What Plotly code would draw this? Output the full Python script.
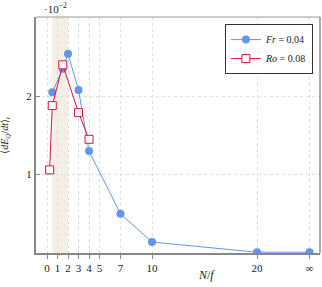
import plotly.graph_objects as go

fr_x = [0.5, 1.5, 2, 3, 4, 7, 10, 20, 25]
fr_y = [2.05, 2.35, 2.54, 2.08, 1.30, 0.50, 0.14, 0.01, 0.01]
ro_x = [0.25, 0.5, 1.5, 3, 4]
ro_y = [1.06, 1.88, 2.40, 1.79, 1.45]
tick_vals = [0, 1, 2, 3, 4, 5, 7, 10, 20, 25]
tick_text = ["0", "1", "2", "3", "4", "5", "7", "10", "20", "∞"]
band = [0.5, 2]

blue = "#6495ED"
red = "#DC143C"
font = "Liberation Serif"

fig = go.Figure()
fig.add_vrect(x0=band[0], x1=band[1], fillcolor="#f3efe4", line_width=0, layer="below")
fig.add_trace(go.Scatter(x=fr_x, y=fr_y, mode="lines+markers", name="<i>Fr</i> = 0.04",
                         line=dict(color=blue, width=1),
                         marker=dict(color=blue, size=8, symbol="circle")))
fig.add_trace(go.Scatter(x=ro_x, y=ro_y, mode="lines+markers", name="<i>Ro</i> = 0.08",
                         line=dict(color=red, width=1),
                         marker=dict(color="white", size=8, symbol="square",
                                     line=dict(color=red, width=1))))
fig.add_shape(type="line", xref="paper", yref="paper", x0=0, x1=1, y0=1, y1=1,
              line=dict(color="#999", width=1))
fig.add_shape(type="line", xref="paper", yref="paper", x0=1, x1=1, y0=0, y1=1,
              line=dict(color="#555", width=1))
fig.update_layout(
    width=322, height=287,
    margin=dict(l=36, r=2, t=17, b=34),
    paper_bgcolor="white", plot_bgcolor="white",
    font=dict(family=font, size=11, color="#222"),
    showlegend=True,
    legend=dict(x=0.975, y=0.97, xanchor="right", yanchor="top",
                bordercolor="#333", borderwidth=1, bgcolor="white",
                font=dict(size=10), tracegroupgap=0, itemwidth=30),
    xaxis=dict(range=[-1.05, 26], tickvals=tick_vals, ticktext=tick_text,
               showgrid=True, gridcolor="#dedede", griddash="dot", gridwidth=1,
               showline=True, linecolor="#888", linewidth=2,
               ticks="outside", ticklen=4, tickcolor="#888", zeroline=False),
    yaxis=dict(range=[0, 3.01], tickvals=[1, 2], ticktext=["1", "2"],
               showgrid=True, gridcolor="#dedede", griddash="dot", gridwidth=1,
               showline=True, linecolor="#888", linewidth=2,
               ticks="inside", ticklen=4, tickcolor="#888", zeroline=False),
)
fig.add_annotation(xref="paper", yref="paper", x=0.6, y=-0.055, text="<i>N</i>/<i>f</i>",
                   showarrow=False, xanchor="center", yanchor="top", font=dict(size=12))
fig.add_annotation(xref="paper", yref="paper", x=-0.11, y=0.5,
                   text="⟨<i>dE<sub>Q</sub></i>/<i>dt</i>⟩<sub><i>t</i></sub>",
                   textangle=-90, showarrow=False, xanchor="center", yanchor="middle",
                   font=dict(size=10))
fig.add_annotation(xref="paper", yref="paper", x=0.02, y=1.0, text="·10<sup>−2</sup>",
                   showarrow=False, xanchor="left", yanchor="bottom", font=dict(size=11))
fig.write_html("out.html", config={"displayModeBar": False},
               post_script="document.body.style.margin='0';")
